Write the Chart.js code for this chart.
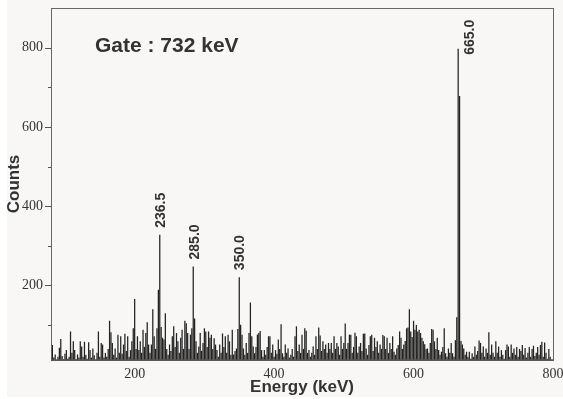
<!DOCTYPE html>
<html><head><meta charset="utf-8">
<script src="https://cdn.jsdelivr.net/npm/chart.js@4/dist/chart.umd.min.js"></script>
<style>html,body{margin:0;padding:0;background:#fff;}#wrap{width:563px;height:399px;}</style>
</head><body><div id="wrap"><canvas id="c" width="563" height="399"></canvas></div>
<script>
// Spectrum: counts per 2 keV channel, starting at 80 keV
const binStart = 80;
const binWidth = 2;
const counts = [
  84, 50, 18, 26, 12, 20, 43, 65, 22, 14,
  28, 37, 15, 20, 84, 30, 59, 37, 14, 26,
  18, 59, 46, 20, 58, 25, 15, 57, 37, 18,
  41, 24, 12, 30, 84, 20, 55, 51, 18, 30,
  20, 40, 111, 82, 55, 25, 41, 18, 76, 30,
  72, 28, 51, 78, 35, 72, 20, 37, 59, 92,
  166, 40, 72, 37, 59, 30, 88, 45, 80, 107,
  51, 30, 51, 140, 72, 40, 92, 189, 328, 95,
  68, 64, 130, 40, 25, 51, 35, 72, 97, 45,
  80, 59, 30, 68, 88, 40, 111, 105, 80, 40,
  76, 92, 248, 117, 59, 30, 46, 80, 35, 55,
  92, 84, 45, 84, 68, 76, 40, 67, 51, 37,
  20, 51, 30, 79, 45, 72, 30, 76, 59, 25,
  88, 26, 35, 41, 90, 221, 101, 76, 41, 25,
  55, 30, 80, 157, 72, 46, 29, 45, 76, 80,
  85, 37, 20, 37, 25, 45, 72, 72, 30, 51,
  20, 37, 28, 64, 40, 102, 29, 20, 51, 30,
  41, 18, 25, 40, 20, 72, 97, 35, 51, 30,
  76, 40, 92, 86, 30, 37, 20, 30, 46, 25,
  72, 40, 94, 74, 35, 59, 40, 51, 30, 55,
  40, 55, 30, 72, 40, 55, 46, 25, 72, 40,
  55, 104, 40, 55, 76, 76, 30, 45, 81, 72,
  30, 46, 55, 35, 78, 79, 41, 25, 50, 72,
  76, 35, 68, 45, 59, 30, 51, 40, 75, 72,
  40, 68, 30, 55, 40, 72, 33, 25, 41, 50,
  84, 68, 40, 51, 60, 92, 94, 140, 84, 70,
  111, 88, 100, 84, 88, 80, 68, 59, 52, 40,
  41, 30, 55, 90, 88, 59, 40, 68, 37, 25,
  33, 45, 92, 29, 20, 41, 30, 55, 29, 20,
  62, 120, 797, 678, 60, 51, 41, 25, 33, 20,
  33, 15, 29, 20, 46, 25, 35, 61, 55, 30,
  46, 20, 41, 30, 82, 25, 51, 30, 20, 59,
  30, 46, 20, 37, 25, 15, 37, 51, 46, 20,
  51, 30, 41, 25, 45, 20, 40, 35, 50, 25,
  42, 18, 30, 45, 20, 40, 48, 22, 30, 45,
  25, 50, 58, 20, 56, 30, 15, 40, 20, 12
];
const xTicks = [200, 400, 600, 800];
const yTicks = [100, 200, 300, 400, 500, 600, 700, 800];
const yLabelTicks = [200, 400, 600, 800];
const xRange = [80, 800];
const yRange = [12, 900];
const peakLabels = ['236.5', '285.0', '350.0', '665.0'];
const peakEnergies = [236.5, 285.0, 350.0, 665.0];
const gateLabel = 'Gate : 732 keV';
const xTitle = 'Energy (keV)';
const yTitle = 'Counts';

const points = counts.map((c, i) => ({ x: binStart + i * binWidth, y: c }));

function peakHeight(e) {
  let m = 0;
  points.forEach(p => { if (Math.abs(p.x - e) <= 2.5 && p.y > m) m = p.y; });
  return m;
}

function zeroPad(s) {
  s.paddingTop = 0; s.paddingBottom = 0; s.paddingLeft = 0; s.paddingRight = 0;
}

const deco = {
  id: 'deco',
  beforeDraw(chart) {
    const ctx = chart.ctx;
    ctx.save();
    ctx.fillStyle = '#ffffff';
    ctx.fillRect(0, 0, chart.width, chart.height);
    ctx.fillStyle = '#f8f7f5';
    ctx.fillRect(7, 0, chart.width - 7, 397);
    ctx.restore();
  },
  afterDraw(chart) {
    const ctx = chart.ctx;
    const a = chart.chartArea;
    const xs = chart.scales.x, ys = chart.scales.y;
    ctx.save();
    // frame
    ctx.strokeStyle = '#666';
    ctx.lineWidth = 1;
    ctx.strokeRect(Math.round(a.left) + 0.5, Math.round(a.top) + 0.5,
      Math.round(a.right - a.left), Math.round(a.bottom - a.top));
    ctx.strokeStyle = '#555';
    ctx.lineWidth = 1.5;
    ctx.beginPath();
    ctx.moveTo(a.left, a.bottom); ctx.lineTo(a.right, a.bottom);
    ctx.stroke();
    // y tick marks
    ctx.lineWidth = 1;
    ctx.strokeStyle = '#555';
    yTicks.forEach(v => {
      const y = Math.round(ys.getPixelForValue(v)) + 0.5;
      const len = (v % 200 === 0) ? 6 : 3;
      ctx.beginPath();
      ctx.moveTo(Math.round(a.left) - len, y);
      ctx.lineTo(Math.round(a.left), y);
      ctx.stroke();
    });
    // titles
    ctx.fillStyle = '#333';
    ctx.font = 'bold 17px "Liberation Sans", Arial, sans-serif';
    ctx.textAlign = 'center';
    ctx.textBaseline = 'middle';
    ctx.fillText(xTitle, (a.left + a.right) / 2, 387);
    ctx.save();
    ctx.translate(14, (a.top + a.bottom) / 2);
    ctx.rotate(-Math.PI / 2);
    ctx.fillText(yTitle, 0, 0);
    ctx.restore();
    // gate label
    ctx.font = 'bold 21px "Liberation Sans", Arial, sans-serif';
    ctx.textAlign = 'left';
    ctx.textBaseline = 'alphabetic';
    ctx.fillText(gateLabel, a.left + 44, 52);
    // peak labels
    ctx.font = 'bold 14px "Liberation Sans", Arial, sans-serif';
    ctx.textBaseline = 'middle';
    ctx.textAlign = 'left';
    peakLabels.forEach((lab, i) => {
      const e = peakEnergies[i];
      const px = xs.getPixelForValue(e);
      const py = ys.getPixelForValue(peakHeight(e));
      const side = i === peakLabels.length - 1;
      const cx = side ? px + 11 : px + 1;
      const by = side ? py + 6 : py - 7;
      ctx.save();
      ctx.translate(cx, by);
      ctx.rotate(-Math.PI / 2);
      ctx.fillText(lab, 0, 0);
      ctx.restore();
    });
    ctx.restore();
  }
};

new Chart(document.getElementById('c'), {
  type: 'bar',
  data: {
    datasets: [{
      data: points,
      backgroundColor: '#222222',
      borderWidth: 0,
      barPercentage: 0.9,
      categoryPercentage: 1.0
    }]
  },
  options: {
    responsive: false,
    devicePixelRatio: 1,
    animation: false,
    events: [],
    layout: { padding: { top: 8, right: 10, left: 0, bottom: 0 } },
    plugins: { legend: { display: false }, tooltip: { enabled: false } },
    scales: {
      x: {
        type: 'linear',
        offset: false,
        min: xRange[0], max: xRange[1],
        afterBuildTicks: s => { s.ticks = xTicks.map(v => ({ value: v })); },
        afterFit: s => { s.height = 39; zeroPad(s); },
        grid: { display: false, drawTicks: false },
        border: { display: false },
        ticks: {
          color: '#333', maxRotation: 0, padding: 6,
          font: { family: '"Liberation Serif", "Times New Roman", serif', size: 14 }
        }
      },
      y: {
        type: 'linear',
        min: yRange[0], max: yRange[1],
        afterBuildTicks: s => { s.ticks = yLabelTicks.map(v => ({ value: v })); },
        afterFit: s => { s.width = 51; zeroPad(s); },
        grid: { display: false, drawTicks: false },
        border: { display: false },
        ticks: {
          color: '#333', padding: 8,
          font: { family: '"Liberation Serif", "Times New Roman", serif', size: 14 }
        }
      }
    }
  },
  plugins: [deco]
});
</script>
</body></html>
